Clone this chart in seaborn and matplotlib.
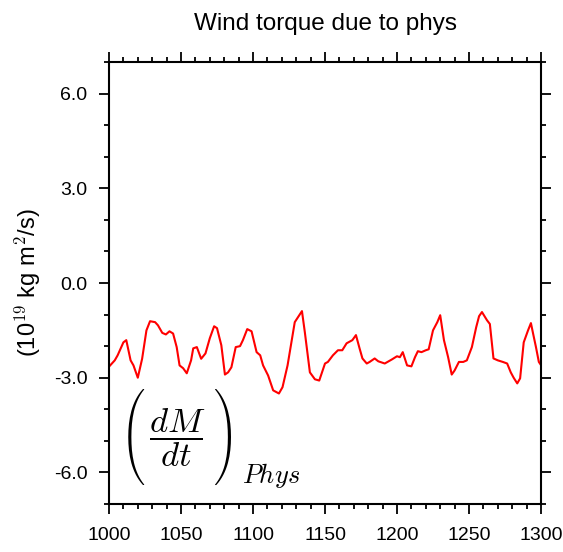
import os
import matplotlib
matplotlib.use("Agg")
import matplotlib.pyplot as plt
from matplotlib.font_manager import FontProperties
import seaborn as sns
import pandas as pd
from matplotlib.ticker import MultipleLocator

years = [1000, 1004, 1006, 1010, 1012, 1015, 1017, 1020, 1023, 1026, 1028.5, 1032, 1034,
         1037, 1039.5, 1042, 1044.5, 1047, 1049, 1051.5, 1054, 1057, 1058.5, 1061, 1064,
         1067, 1070, 1073, 1075, 1078, 1080.5, 1082.7, 1085, 1088, 1091, 1093, 1096, 1099,
         1102.5, 1105, 1107, 1110.5, 1114, 1118, 1120.5, 1124, 1129, 1134, 1136, 1139.5,
         1143, 1146, 1150, 1152, 1155.5, 1159, 1162, 1165, 1169, 1171.5, 1174, 1176, 1179,
         1181, 1184.5, 1187, 1191.5, 1196.5, 1200, 1202, 1204, 1207, 1210, 1212.5, 1214.5,
         1217, 1220, 1222, 1225, 1228, 1230, 1232.6, 1235.5, 1238, 1240, 1243, 1246, 1248.5,
         1252, 1255, 1257, 1259, 1262.5, 1264.5, 1267, 1270, 1273.5, 1276.5, 1279, 1281,
         1283.5, 1285.5, 1288, 1291, 1293, 1294.5, 1296.5, 1298.5, 1300]
torque = [-2.65, -2.45, -2.29, -1.88, -1.81, -2.45, -2.61, -3.0, -2.4, -1.5, -1.21, -1.24, -1.34,
          -1.58, -1.63, -1.53, -1.6, -2.03, -2.61, -2.7, -2.86, -2.45, -2.07, -2.03, -2.4,
          -2.23, -1.75, -1.37, -1.43, -1.97, -2.9, -2.83, -2.67, -2.03, -2.0, -1.81, -1.46, -1.53,
          -2.19, -2.29, -2.61, -2.93, -3.4, -3.5, -3.3, -2.61, -1.24, -0.89, -1.56, -2.83,
          -3.05, -3.09, -2.55, -2.5, -2.29, -2.13, -2.13, -1.91, -1.81, -1.65, -2.07, -2.39, -2.55,
          -2.5, -2.39, -2.48, -2.55, -2.42, -2.32, -2.35, -2.19, -2.61, -2.64, -2.35, -2.16,
          -2.19, -2.13, -2.1, -1.5, -1.24, -1.02, -1.81, -2.35, -2.9, -2.77, -2.5, -2.5, -2.45,
          -2.03, -1.4, -1.05, -0.92, -1.18, -1.3, -2.39, -2.45, -2.5, -2.55, -2.83, -3.0,
          -3.18, -3.02, -1.88, -1.5, -1.27, -1.6, -2.03, -2.5, -2.6]
yticks = [-6.0, -3.0, 0.0, 3.0, 6.0]
xticks = [1000, 1050, 1100, 1150, 1200, 1250, 1300]

sns.set_style("white")
plt.rcParams['font.family'] = ['Liberation Sans', 'DejaVu Sans']
plt.rcParams['mathtext.fontset'] = 'cm'
for k in ['text.color', 'axes.labelcolor', 'xtick.color', 'ytick.color']:
    plt.rcParams[k] = 'black'

df = pd.DataFrame({"year": years, "torque": torque})

fig = plt.figure(figsize=(5.63, 5.52), dpi=100)
ax = fig.add_axes([109/563, 1-504/552, 432/563, 442/552])
sns.lineplot(data=df, x="year", y="torque", ax=ax, color="#ff0000", linewidth=1.5)

ax.set_xlim(1000, 1300)
ax.set_ylim(-7, 7)
ax.set_xticks(xticks)
ax.set_xticklabels([str(v) for v in xticks])
ax.set_yticks(yticks)
ax.set_yticklabels([f"{v:.1f}" for v in yticks])
ax.xaxis.set_minor_locator(MultipleLocator(10))
ax.yaxis.set_minor_locator(MultipleLocator(1))
ax.tick_params(which='both', direction='out', top=True, right=True,
               bottom=True, left=True, color='black', width=1.3)
ax.tick_params(which='major', length=7.5, labelsize=14, pad=8)
ax.tick_params(which='minor', length=3.8)
ax.tick_params(axis='x', which='major', pad=9)
for s in ax.spines.values():
    s.set_visible(True)
    s.set_color('black')
    s.set_linewidth(1.5)

ax.set_xlabel("")
ax.set_ylabel(r"(10$^{19}$ kg m$^{2}$/s)", fontsize=17, labelpad=8)
ax.set_title("Wind torque due to phys", fontsize=17.5, pad=23)

# annotation: (dM/dt)_Phys
cmex_path = os.path.join(matplotlib.get_data_path(), "fonts", "ttf", "cmex10.ttf")
cmex = FontProperties(fname=cmex_path, size=22)
ax.text(0.0545, 0.151, "\xc3", transform=ax.transAxes, fontproperties=cmex,
        ha='center', va='center')
ax.text(0.271, 0.151, "\x21", transform=ax.transAxes, fontproperties=cmex,
        ha='center', va='center')
ax.text(0.157, 0.150, r"$\dfrac{dM}{dt}$", transform=ax.transAxes,
        fontsize=25, ha='center', va='center')
ax.text(0.308, 0.047, r"$Phys$", transform=ax.transAxes,
        fontsize=19, ha='left', va='baseline')

fig.savefig("out.png", dpi=100)
